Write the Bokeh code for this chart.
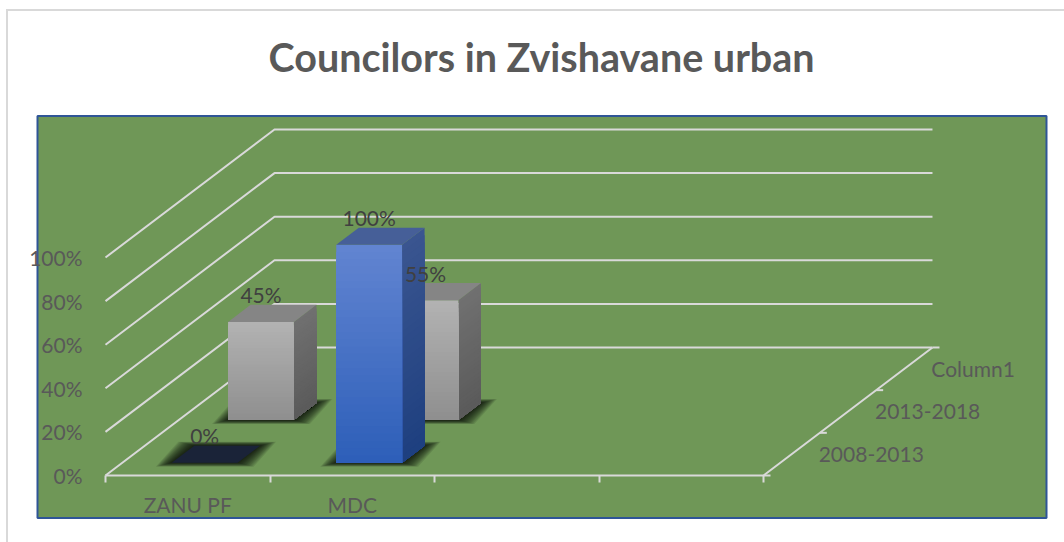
from bokeh.plotting import figure
from bokeh.models import LinearAxis, FixedTicker, NumeralTickFormatter
from bokeh.embed import file_html
from bokeh.resources import INLINE
from bokeh.core.properties import value

# ---- data ----
title_text = "Councilors in Zvishavane urban"
categories = ["ZANU PF", "MDC", "", ""]
series_names = ["2008-2013", "2013-2018", "Column1"]
values_2008_2013 = [0.0, 1.0]
values_2013_2018 = [0.45, 0.55]
values_column1 = []
y_ticks = [0.0, 0.2, 0.4, 0.6, 0.8, 1.0]
bar_values = [values_2008_2013, values_2013_2018, values_column1]

# ---- layout (screen pixels) ----
PAGE = 0
W, H = 1064, 542
FRAME_TOP = 100
ORIGIN_X, ORIGIN_Y = 105, 475
CAT_PX, VAL_PX = 164.5, 218
DEPTH_DX, DEPTH_DY = 56.33, 42.67
FONT = "Lato"
AXIS_SIZE, TXT = "21px", "#595959"
GRID = "#d9d9d9"


def dx(px):
    return px / CAT_PX


def dy(px):
    return px / VAL_PX


def sx(screen):
    return (screen - ORIGIN_X) / CAT_PX


def sy(screen):
    return (ORIGIN_Y - screen) / VAL_PX


def proj(cat, depth, val):
    return cat + depth * dx(DEPTH_DX), val + depth * dy(DEPTH_DY)


def mix(a, b, t):
    ca = [int(a[i:i + 2], 16) for i in (1, 3, 5)]
    cb = [int(b[i:i + 2], 16) for i in (1, 3, 5)]
    return "#%02x%02x%02x" % tuple(round(u + (v - u) * t) for u, v in zip(ca, cb))


# the chart's thin outer frame (top and left edges) is painted behind a transparent canvas
frame_css = (f"linear-gradient({GRID},{GRID}) 6px 9px/1058px 2px no-repeat,"
             f"linear-gradient({GRID},{GRID}) 6px 9px/2px 533px no-repeat,white")

p = figure(width=W, height=H, output_backend="svg", toolbar_location=None,
           x_range=(sx(PAGE), sx(PAGE + W)), y_range=(sy(PAGE + H), sy(FRAME_TOP)),
           x_axis_location=None, y_axis_location=None,
           min_border_left=0, min_border_right=0, min_border_bottom=0,
           min_border_top=FRAME_TOP - PAGE, outline_line_color=None,
           background_fill_color=None, border_fill_color=None,
           styles={"background": frame_css})
p.grid.visible = False

p.title.text = title_text
p.title.text_font = FONT
p.title.text_font_size = "39.5px"
p.title.text_font_style = "bold"
p.title.text_color = TXT
p.title.align = "left"
p.title.offset = 268
p.title.standoff = 41

# green plot area
p.quad(left=sx(37), right=sx(1046), top=sy(115.5), bottom=sy(517.5),
       fill_color="#6f9757", line_color="#2f5597", line_width=2)

# walls and floor
n_cat = len(categories)
n_ser = len(series_names)
wall_x, wall_y = [], []
for v in y_ticks:
    pts = [proj(0, 0, v), proj(0, n_ser, v), proj(n_cat, n_ser, v)]
    wall_x.append([q[0] for q in pts])
    wall_y.append([q[1] for q in pts])
pts = [proj(0, 0, 0), proj(n_cat, 0, 0), proj(n_cat, n_ser, 0)]
wall_x.append([q[0] for q in pts])
wall_y.append([q[1] for q in pts])
p.multi_line(wall_x, wall_y, line_color=GRID, line_width=2)

# small ticks on the series axis
tick_pts = [proj(n_cat, d, 0) for d in range(n_ser + 1)]
p.segment([q[0] for q in tick_pts], [q[1] for q in tick_pts],
          [q[0] + dx(7) for q in tick_pts], [q[1] for q in tick_pts],
          line_color=GRID, line_width=2)

# bars
WIDTH_FRAC, MARGIN = 0.4, 0.3
bars = []
for d, vals in enumerate(bar_values):
    for c, v in enumerate(vals):
        bars.append((c, d, v))

BLUE = dict(f0="#6184d1", f1="#2c5eb8", s0="#3a5590", s1="#1d3f7f", t="#465f98", z="#1a2338")
GRAY = dict(f0="#b2b2b2", f1="#8e8e8e", s0="#707070", s1="#5a5a5a", t="#858585", z="#1a2338")
STYLE = [BLUE, GRAY]

# soft floor shadows
LAYERS = 12
for (c, d, v) in sorted(bars, key=lambda b: -b[1]):
    c0, c1 = c + MARGIN, c + MARGIN + WIDTH_FRAC
    d0, d1 = d + MARGIN, d + MARGIN + WIDTH_FRAC
    xs, ys = [], []
    for k in range(LAYERS, 0, -1):
        ex, ey = dx(16 * k / LAYERS), dy(4 * k / LAYERS)
        fl, fr, br, bl = proj(c0, d0, 0), proj(c1, d0, 0), proj(c1, d1, 0), proj(c0, d1, 0)
        xs.append([fl[0] - ex, fr[0] + ex, br[0] + ex, bl[0] - ex])
        ys.append([fl[1] - ey, fr[1] - ey, br[1] + ey, bl[1] + ey])
    p.patches(xs, ys, fill_color="black", fill_alpha=0.1, line_color=None)

BANDS = 30
for (c, d, v) in sorted(bars, key=lambda b: -b[1]):
    st = STYLE[d]
    c0, c1 = c + MARGIN, c + MARGIN + WIDTH_FRAC
    d0, d1 = d + MARGIN, d + MARGIN + WIDTH_FRAC
    xs, ys, cols = [], [], []
    if v > 0:
        for b in range(BANDS):
            t = b / BANDS
            level = v * (1 - t)
            # side face
            a, e, f, g = proj(c1, d0, level), proj(c1, d1, level), proj(c1, d1, 0), proj(c1, d0, 0)
            xs.append([a[0], e[0], f[0], g[0]])
            ys.append([a[1], e[1], f[1], g[1]])
            cols.append(mix(st["s0"], st["s1"], t))
        for b in range(BANDS):
            t = b / BANDS
            level = v * (1 - t)
            # front face
            a, e, f, g = proj(c0, d0, level), proj(c1, d0, level), proj(c1, d0, 0), proj(c0, d0, 0)
            xs.append([a[0], e[0], f[0], g[0]])
            ys.append([a[1], e[1], f[1], g[1]])
            cols.append(mix(st["f0"], st["f1"], t))
    a, e, f, g = proj(c0, d0, v), proj(c1, d0, v), proj(c1, d1, v), proj(c0, d1, v)
    xs.append([a[0], e[0], f[0], g[0]])
    ys.append([a[1], e[1], f[1], g[1]])
    cols.append(st["t"] if v > 0 else st["z"])
    p.patches(xs, ys, fill_color=cols, line_color=None)

# data labels
lab = [proj(c + MARGIN + WIDTH_FRAC / 2, d + MARGIN, v) for (c, d, v) in bars]
p.text([q[0] for q in lab], [q[1] for q in lab],
       text=["%d%%" % round(b[2] * 100) for b in bars],
       text_font=value(FONT), text_font_size=value(AXIS_SIZE), text_color="#404040",
       text_align="center", text_baseline="middle", y_offset=-27)

# series axis labels
ser = [proj(n_cat, d + 0.5, 0) for d in range(n_ser)]
p.text([q[0] for q in ser], [q[1] for q in ser], text=series_names,
       text_font=value(FONT), text_font_size=value(AXIS_SIZE), text_color=TXT,
       text_align="left", text_baseline="middle", x_offset=27, y_offset=0)

# value axis
ya = LinearAxis(fixed_location=0, ticker=FixedTicker(ticks=y_ticks),
                formatter=NumeralTickFormatter(format="0%"),
                axis_line_color=None, major_tick_line_color=None, minor_tick_line_color=None,
                major_label_standoff=17, major_label_text_font=FONT,
                major_label_text_font_size=AXIS_SIZE, major_label_text_color=TXT)
p.add_layout(ya, "left")

# category boundaries
xa = LinearAxis(fixed_location=0, ticker=FixedTicker(ticks=list(range(n_cat + 1))),
                axis_line_color=None, major_tick_line_color=GRID, major_tick_line_width=2,
                major_tick_out=7, major_tick_in=0, minor_tick_line_color=None,
                major_label_text_color=None, major_label_text_font_size="1px")
p.add_layout(xa, "below")

# category labels
named = [i + 0.5 for i, n in enumerate(categories) if n]
xb = LinearAxis(fixed_location=0, ticker=FixedTicker(ticks=named),
                major_label_overrides={i + 0.5: n for i, n in enumerate(categories) if n},
                axis_line_color=None, major_tick_line_color=None, minor_tick_line_color=None,
                major_label_standoff=10, major_label_text_font=FONT,
                major_label_text_font_size=AXIS_SIZE, major_label_text_color=TXT)
p.add_layout(xb, "below")

open("out.html", "w").write(file_html(p, INLINE))
